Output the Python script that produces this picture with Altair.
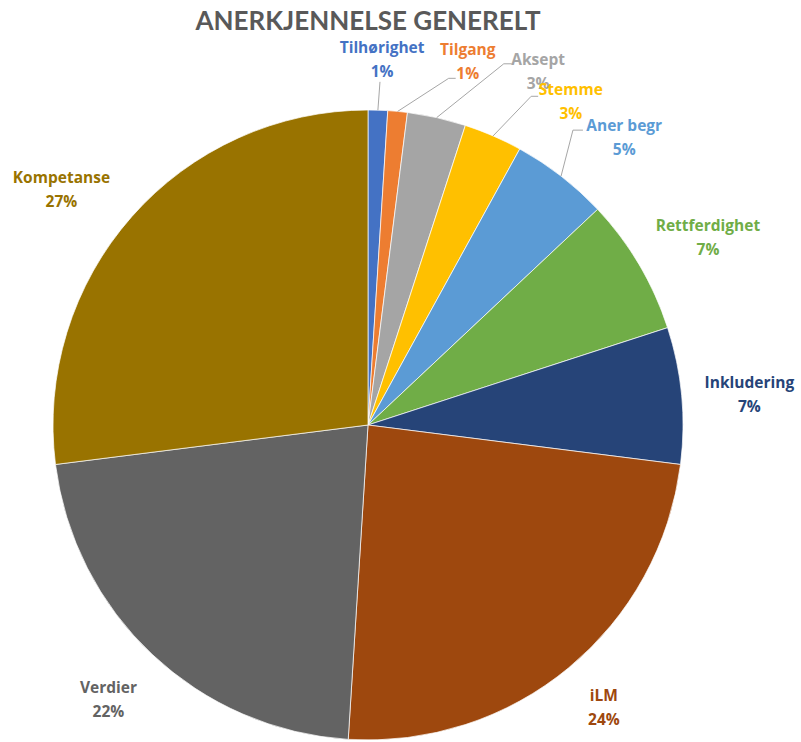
import math
import altair as alt
import pandas as pd

# Survey shares (percent) per category, clockwise from 12 o'clock
categories = ["Tilhørighet", "Tilgang", "Aksept", "Stemme", "Aner begr",
              "Rettferdighet", "Inkludering", "iLM", "Verdier", "Kompetanse"]
shares = [1, 1, 3, 3, 5, 7, 7, 24, 22, 27]
palette = ["#4472C4", "#ED7D31", "#A5A5A5", "#FFC000", "#5B9BD5",
           "#70AD47", "#264478", "#9E480E", "#636363", "#997300"]
title_text = "ANERKJENNELSE GENERELT"

# ---- layout -------------------------------------------------------------
W, H = 801, 742
CX, CY, R = 368, 425, 315          # pie centre and radius (px)
LABEL_FONT = "Open Sans"
TITLE_FONT = "Lato"

# label placement: (angle shift from slice middle in degrees, radius in pie radii)
label_place = {
    "Tilhørighet": (0.4, 1.165), "Tilgang": (9.9, 1.20), "Aksept": (13.0, 1.25),
    "Stemme": (8.6, 1.215), "Aner begr": (3.8, 1.225), "Rettferdighet": (1.5, 1.235),
    "Inkludering": (0.6, 1.215), "iLM": (-0.4, 1.165), "Verdier": (0.4, 1.195),
    "Kompetanse": (-3.7, 1.23),
}
# leader lines for the crowded slices: elbow (angle deg, radius) + horizontal tail (px)
leader_place = {
    "Tilhørighet": ((2.0, 1.09), 0),
    "Tilgang": ((13.1, 1.13), 7),
    "Aksept": ((20.6, 1.225), 8),
    "Stemme": ((26.4, 1.165), 7),
    "Aner begr": ((34.8, 1.14), 10),
}

total = sum(shares)
mid_angle = {}
acc = 0.0
for c, v in zip(categories, shares):
    mid_angle[c] = (acc + v / 2) / total * 360.0
    acc += v


def polar(angle_deg, r):
    a = math.radians(angle_deg)
    return r * math.sin(a), r * math.cos(a)


pie_df = pd.DataFrame({"cat": categories, "share": shares,
                       "idx": list(range(len(categories)))})

lab_rows = []
for c, v in zip(categories, shares):
    da, rr = label_place[c]
    ux, uy = polar(mid_angle[c] + da, rr)
    lab_rows.append({"cat": c, "ux": ux, "uy": uy, "label": f"{c}\n{v}%"})
lab_df = pd.DataFrame(lab_rows)

lead_rows = []
for c, ((ea, er), tail) in leader_place.items():
    sx, sy = polar(mid_angle[c], 1.0)
    ex, ey = polar(ea, er)
    pts = [(sx, sy), (ex, ey)]
    if tail:
        pts.append((ex + tail / R, ey))
    for k, (px, py) in enumerate(pts):
        lead_rows.append({"cat": c, "k": k, "ux": px, "uy": py})
lead_df = pd.DataFrame(lead_rows)

# scales in units of the pie radius, centred on the pie
xs = alt.Scale(domain=[-CX / R, (W - CX) / R], range=[0, W], zero=False, nice=False)
ys = alt.Scale(domain=[(CY - H) / R, CY / R], range=[H, 0], zero=False, nice=False)
color_scale = alt.Scale(domain=categories, range=palette)

pie = alt.Chart(pie_df).mark_arc(stroke="white", strokeWidth=0.7, outerRadius=R).encode(
    theta=alt.Theta("share:Q", stack=True),
    order=alt.Order("idx:Q"),
    color=alt.Color("cat:N", scale=color_scale, legend=None),
    x=alt.value(CX), y=alt.value(CY),
)

leaders = alt.Chart(lead_df).mark_line(color="#A6A6A6", strokeWidth=1).encode(
    x=alt.X("ux:Q", scale=xs, axis=None),
    y=alt.Y("uy:Q", scale=ys, axis=None),
    detail="cat:N",
    order="k:Q",
)

labels = alt.Chart(lab_df).mark_text(
    font=LABEL_FONT, fontSize=15.5, fontWeight="bold", lineBreak="\n", lineHeight=24,
    align="center", baseline="middle", dy=-10,
).encode(
    x=alt.X("ux:Q", scale=xs, axis=None),
    y=alt.Y("uy:Q", scale=ys, axis=None),
    text="label:N",
    color=alt.Color("cat:N", scale=color_scale, legend=None),
)

title = alt.Chart(pd.DataFrame({"t": [title_text]})).mark_text(
    font=TITLE_FONT, fontSize=26, fontWeight="bold", color="#595959",
    align="center", baseline="middle",
).encode(text="t:N", x=alt.value(368), y=alt.value(22))

chart = alt.layer(pie, leaders, labels, title).properties(
    width=W, height=H,
    autosize=alt.AutoSizeParams(type="none"),
    padding=0,
).configure(background="#ffffff").configure_view(stroke=None)

chart.save("out.html", embed_options={"renderer": "svg", "actions": False})
